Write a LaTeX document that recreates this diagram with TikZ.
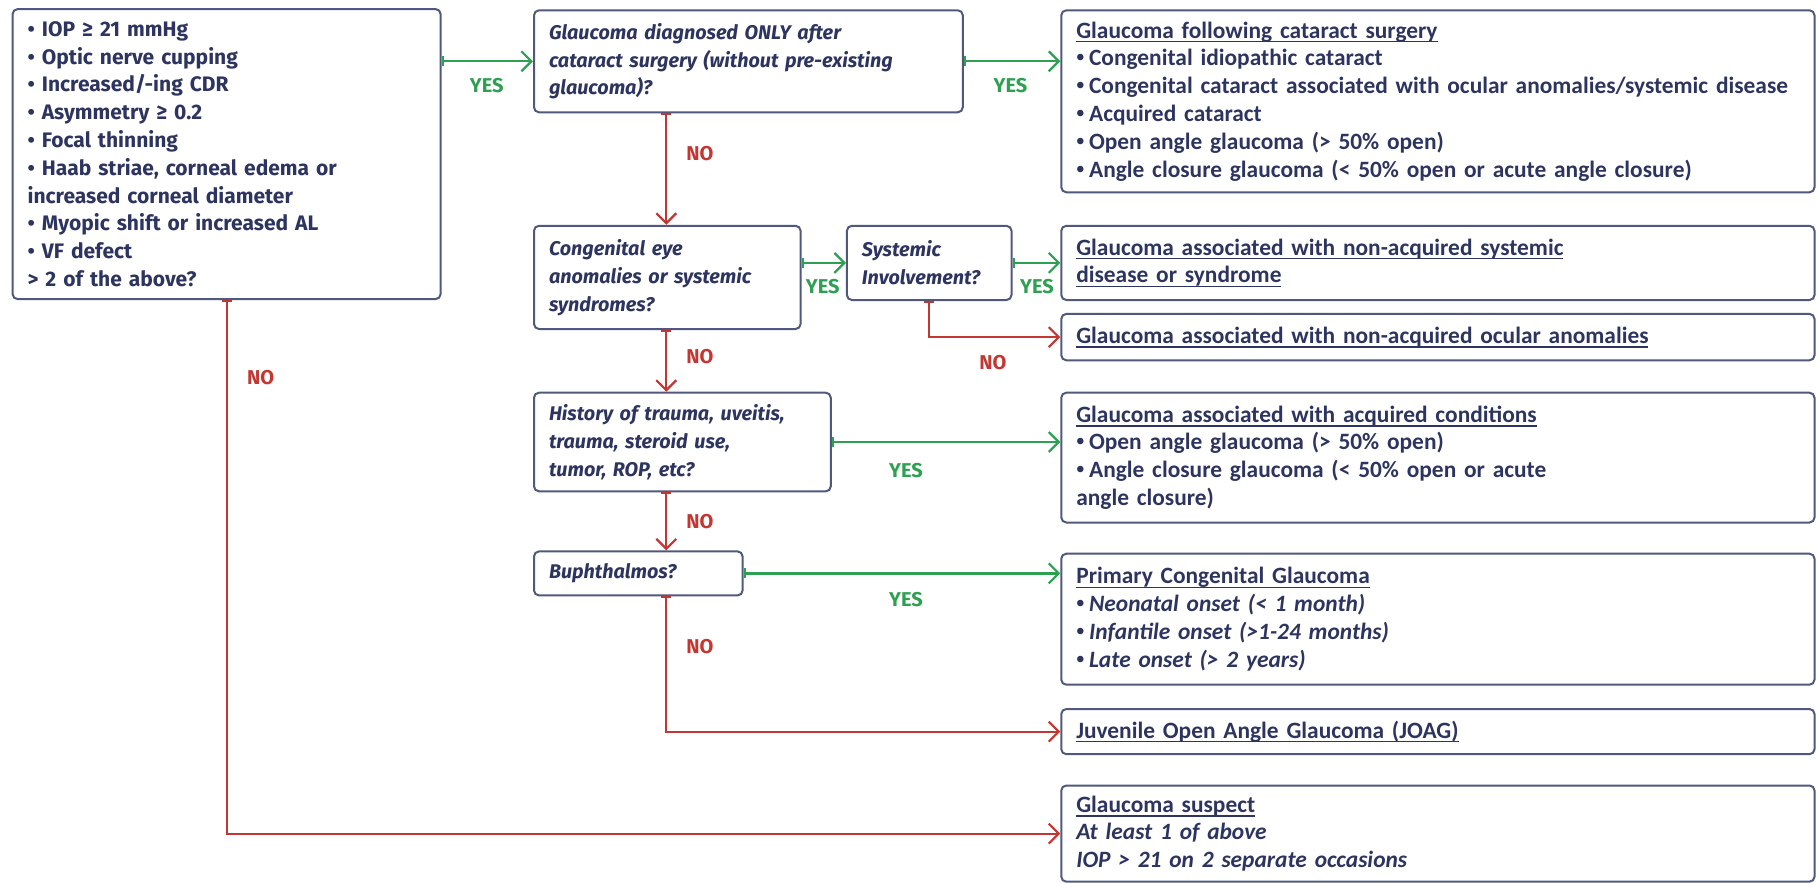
\documentclass[tikz,border=0pt]{standalone}
\usepackage{fontspec}
\setmainfont{Carlito}
\newfontfamily\qfont{Fira Sans}
\usetikzlibrary{arrows.meta}

\definecolor{ink}{RGB}{45,52,95}
\definecolor{frame}{RGB}{80,88,125}
\definecolor{yescol}{RGB}{46,160,82}
\definecolor{nocol}{RGB}{195,55,50}

% heading underlined close to the baseline; small bullet
\newcommand\hd[1]{\leavevmode{\setbox0\hbox{#1}\rlap{\vrule width\wd0 height -1.5pt depth 2.2pt}\box0}}
\newcommand\bul{{\qfont•}\hspace{0.2em}}

\tikzset{
  box/.style={draw=frame, line width=1pt, rounded corners=2.5pt, anchor=north west,
    inner xsep=7.5pt, inner ysep=2pt, align=left, text=ink,
    font=\bfseries\fontsize{11.7}{13.9}\selectfont},
  critbox/.style={box, font=\qfont\bfseries\fontsize{10.5}{13.9}\selectfont},
  askbox/.style={box, font=\qfont\bfseries\itshape\fontsize{9.9}{13.9}\selectfont},
  flow/.style={line width=1.1pt,
    {Bar[width=5pt,line width=1pt]}-{Straight Barb[length=5pt,width=10pt,line width=1.1pt]}},
  yesflow/.style={flow, draw=yescol},
  noflow/.style={flow, draw=nocol},
  yeslbl/.style={text=yescol, font=\qfont\bfseries\fontsize{10}{12}\selectfont, inner sep=0pt},
  nolbl/.style={text=nocol, font=\qfont\bfseries\fontsize{10}{12}\selectfont, inner sep=0pt},
}

\begin{document}
\begin{tikzpicture}[x=0.5pt,y=-0.5pt]
\useasboundingbox (0,0) rectangle (1817,883);

% criteria box
\node[critbox, text width=199pt, minimum height=145pt] (crit) at (11.6,8.1) {%
• IOP ≥ 21 mmHg\\
• Optic nerve cupping\\
• Increased/-ing CDR\\
• Asymmetry ≥ 0.2\\
• Focal thinning\\
• Haab striae, corneal edema or\\
increased corneal diameter\\
• Myopic shift or increased AL\\
• VF defect\\
> 2 of the above?};

% question boxes
\node[askbox, text width=199.4pt, minimum height=51pt] (q1) at (533,9.3) {%
Glaucoma diagnosed ONLY after\\
cataract surgery (without pre-existing\\
glaucoma)?};

\node[askbox, text width=118.3pt, minimum height=51.6pt] (q2) at (533,224.8) {%
Congenital eye\\
anomalies or systemic\\
syndromes?};

\node[askbox, text width=67.3pt, minimum height=37.1pt] (q3) at (845.9,224.8) {%
Systemic\\
Involvement?};

\node[askbox, text width=133.4pt, minimum height=49.3pt] (q4) at (533,391.7) {%
History of trauma, uveitis,\\
trauma, steroid use,\\
tumor, ROP, etc?};

\node[askbox, text width=89.3pt, minimum height=22pt] (q5) at (533,550.4) {%
Buphthalmos?};

% outcome boxes
\node[box, text width=361.6pt, minimum height=91pt] (r1) at (1060.3,9.3) {%
\hd{Glaucoma following cataract surgery}\\
\bul Congenital idiopathic cataract\\
\mbox{\bul Congenital cataract associated with ocular anomalies/systemic disease}\\
\bul Acquired cataract\\
\bul Open angle glaucoma (> 50\% open)\\
\bul Angle closure glaucoma (< 50\% open or acute angle closure)};

\node[box, text width=361.6pt, minimum height=37.1pt] (r2) at (1060.3,224.8) {%
\hd{Glaucoma associated with non-acquired systemic}\\
\hd{disease or syndrome}};

\node[box, text width=361.6pt, minimum height=23.2pt] (r3) at (1060.3,312.9) {%
\hd{Glaucoma associated with non-acquired ocular anomalies}};

\node[box, text width=361.6pt, minimum height=64.9pt] (r4) at (1060.3,391.7) {%
\hd{Glaucoma associated with acquired conditions}\\
\bul Open angle glaucoma (> 50\% open)\\
\bul Angle closure glaucoma (< 50\% open or acute\\
angle closure)};

\node[box, text width=361.6pt, minimum height=65.5pt] (r5) at (1060.3,552.7) {%
\hd{Primary Congenital Glaucoma}\\
{\bul\itshape Neonatal onset (< 1 month)}\\
{\bul\itshape Infantile onset (>1-24 months)}\\
{\bul\itshape Late onset (> 2 years)}};

\node[box, text width=361.6pt, minimum height=22.6pt] (r6) at (1060.3,708) {%
\hd{Juvenile Open Angle Glaucoma (JOAG)}};

\node[box, text width=361.6pt, minimum height=48.1pt] (r7) at (1060.3,784.5) {%
\hd{Glaucoma suspect}\\
{\itshape At least 1 of above}\\
{\itshape IOP > 21 on 2 separate occasions}};

% vertical spine of the NO branch
\coordinate (spine) at (666.3,0);

% YES connectors
\draw[yesflow] (crit.east |- q1.west) -- (q1.west);
\draw[yesflow] (q1.east) -- (q1.west -| r1.west);
\draw[yesflow] (q2.east |- q3.west) -- (q3.west);
\draw[yesflow] (q3.east) -- (q3.east -| r2.west);
\draw[yesflow] (q4.east) -- (q4.east -| r4.west);
\draw[yesflow] (q5.east) -- (q5.east -| r5.west);

% NO connectors
\draw[noflow] (q1.south -| spine) -- (q2.north -| spine);
\draw[noflow] (q2.south -| spine) -- (q4.north -| spine);
\draw[noflow] (q4.south -| spine) -- (q5.north -| spine);
\draw[noflow] (q5.south -| spine) |- (r6.west);
\draw[noflow] (q3.south) |- (r3.west);
\draw[noflow] (crit.south) |- (r7.west);

% branch labels
\node[yeslbl] (y1) at (486.7,85.8) {YES};
\node[yeslbl] (y2) at (1010.5,85.8) {YES};
\node[yeslbl] (y3) at (822.7,286.2) {YES};
\node[yeslbl] (y4) at (1037,286.2) {YES};
\node[yeslbl] (y5) at (906,470.5) {YES};
\node[yeslbl] (y6) at (906,600) {YES};
\node[nolbl] (n1) at (700,154) {NO};
\node[nolbl] (n2) at (700,357) {NO};
\node[nolbl] (n3) at (993,362.7) {NO};
\node[nolbl] (n4) at (700,521.5) {NO};
\node[nolbl] (n5) at (700,646.6) {NO};
\node[nolbl] (n6) at (260.7,377.8) {NO};
\end{tikzpicture}
\end{document}
